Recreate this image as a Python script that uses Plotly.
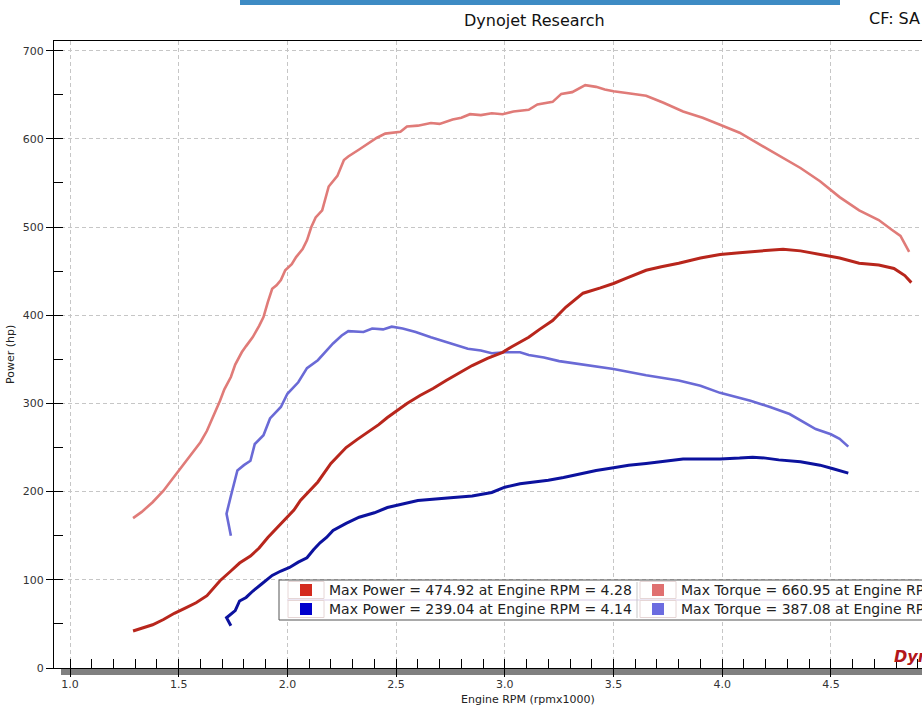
import plotly.graph_objects as go

# ---------------- data ----------------
run1_torque_rpm = [1.29, 1.33, 1.38, 1.43, 1.47, 1.51, 1.54, 1.57, 1.60, 1.63, 1.66, 1.69, 1.71, 1.74,
                   1.76, 1.79, 1.81, 1.84, 1.87, 1.89, 1.91, 1.93, 1.95, 1.97, 1.99, 2.02, 2.04, 2.07,
                   2.09, 2.11, 2.13, 2.16, 2.19, 2.21, 2.23, 2.26, 2.28, 2.33, 2.37, 2.41, 2.45, 2.49,
                   2.52, 2.55, 2.60, 2.66, 2.70, 2.76, 2.80, 2.84, 2.89, 2.94, 2.99, 3.04, 3.11, 3.15,
                   3.22, 3.26, 3.31, 3.37, 3.42, 3.46, 3.50, 3.56, 3.65, 3.69, 3.73, 3.82, 3.91, 3.99,
                   4.08, 4.17, 4.26, 4.36, 4.45, 4.54, 4.63, 4.72, 4.78, 4.82, 4.84, 4.86]
run1_torque_hp = [170, 177, 188, 201, 214, 227, 236, 246, 256, 269, 285, 303, 316, 330,
                  344, 358, 365, 375, 388, 398, 415, 430, 434, 440, 451, 458, 466, 475,
                  485, 500, 511, 519, 546, 552, 558, 576, 580, 588, 595, 601, 606, 607,
                  608, 614, 615, 618, 617, 622, 624, 628, 627, 629, 628, 631, 633, 639,
                  642, 651, 653, 660.95, 659, 656, 654, 652, 649, 645, 641, 631, 624, 616,
                  607, 594, 581, 567, 552, 534, 519, 508, 497, 490, 481, 472]

run1_power_rpm = [1.29, 1.33, 1.38, 1.43, 1.48, 1.53, 1.58, 1.63, 1.66, 1.69, 1.74, 1.78, 1.83, 1.87,
                  1.91, 1.95, 2.00, 2.03, 2.06, 2.10, 2.14, 2.20, 2.27, 2.32, 2.37, 2.42, 2.46,
                  2.55, 2.61, 2.67, 2.73, 2.79, 2.85, 2.92, 2.99, 3.03, 3.07, 3.11, 3.16, 3.22,
                  3.28, 3.36, 3.44, 3.50, 3.56, 3.65, 3.72, 3.80, 3.90, 3.99, 4.08, 4.17, 4.28,
                  4.36, 4.45, 4.54, 4.63, 4.72, 4.79, 4.84, 4.87]
run1_power_hp = [42, 45, 49, 55, 62, 68, 74, 82, 90, 99, 110, 119, 127, 136,
                 148, 158, 171, 179, 190, 200, 211, 232, 250, 259, 267, 276, 284,
                 300, 309, 317, 326, 335, 343, 351, 358, 364, 370, 375, 384, 394,
                 409, 425, 431, 436, 442, 451, 455, 459, 465, 469, 471, 473, 474.92,
                 473, 469, 465, 459, 457, 453, 445, 437]

run2_torque_rpm = [1.74, 1.72, 1.74, 1.77, 1.80, 1.83, 1.85, 1.89, 1.92, 1.97, 2.00, 2.05, 2.09,
                   2.14, 2.18, 2.21, 2.25, 2.28, 2.35, 2.39, 2.44, 2.48, 2.53, 2.59, 2.66, 2.73,
                   2.83, 2.89, 2.94, 3.00, 3.07, 3.11, 3.18, 3.25, 3.38, 3.50, 3.65, 3.80, 3.90,
                   3.99, 4.13, 4.22, 4.31, 4.43, 4.50, 4.54, 4.58]
run2_torque_hp = [150, 175, 195, 224, 230, 235, 254, 264, 283, 296, 311, 324, 340,
                  349, 360, 368, 377, 382, 381, 385, 384, 387.08, 385, 381, 375, 370,
                  362, 360, 357, 358, 358, 355, 352, 348, 343, 339, 332, 326, 320,
                  312, 303, 296, 288, 271, 265, 260, 251]

run2_power_rpm = [1.74, 1.72, 1.76, 1.78, 1.81, 1.84, 1.88, 1.93, 1.97, 2.01, 2.05, 2.09, 2.12,
                  2.15, 2.18, 2.21, 2.27, 2.33, 2.40, 2.46, 2.53, 2.60, 2.75, 2.85, 2.94, 3.00,
                  3.07, 3.11, 3.20, 3.27, 3.35, 3.42, 3.50, 3.57, 3.65, 3.73, 3.82, 3.90, 3.99,
                  4.08, 4.14, 4.20, 4.26, 4.36, 4.45, 4.51, 4.58]
run2_power_hp = [48, 57, 65, 76, 80, 87, 95, 105, 110, 114, 120, 125, 134,
                 142, 148, 156, 164, 171, 176, 182, 186, 190, 193, 195, 199, 205,
                 209, 210, 213, 216, 220, 224, 227, 230, 232, 234, 237, 237, 237,
                 238, 239.04, 238, 236, 234, 230, 226, 221]

x_ticks = [1.0, 1.5, 2.0, 2.5, 3.0, 3.5, 4.0, 4.5]
x_tick_labels = ["1.0", "1.5", "2.0", "2.5", "3.0", "3.5", "4.0", "4.5"]
y_ticks = [0, 100, 200, 300, 400, 500, 600, 700]

legend_rows = [
    ("Max Power = 474.92 at Engine RPM = 4.28", "Max Torque = 660.95 at Engine RPM = 3.37"),
    ("Max Power = 239.04 at Engine RPM = 4.14", "Max Torque = 387.08 at Engine RPM = 2.48"),
]

# ---------------- styles ----------------
C_P1 = "#b8261c"
C_T1 = "#e07b78"
C_P2 = "#0c129e"
C_T2 = "#6a6ad6"
SQ = [("#d42a1e", "#e07070"), ("#0000cc", "#6c6ce0")]
FONT = "DejaVu Sans"

W, H = 922, 709
ML, MR, MT, MB = 54, 0, 41, 41
PW, PH = W - ML - MR, H - MT - MB


def px(x):
    return (x - ML) / PW


def py(y):
    return (H - MB - y) / PH


fig = go.Figure()
for xs, ys, c, w in [
    (run1_torque_rpm, run1_torque_hp, C_T1, 2.6),
    (run2_torque_rpm, run2_torque_hp, C_T2, 2.6),
    (run1_power_rpm, run1_power_hp, C_P1, 3.0),
    (run2_power_rpm, run2_power_hp, C_P2, 3.0),
]:
    fig.add_trace(go.Scatter(x=xs, y=ys, mode="lines", line=dict(color=c, width=w),
                             showlegend=False, hoverinfo="skip"))

shapes = []
annotations = []

# top blue bar
shapes.append(dict(type="rect", xref="paper", yref="paper", x0=px(240), x1=px(840),
                   y0=py(5), y1=py(-2), fillcolor="#3d8bc4", line=dict(width=0), layer="above"))
# grey bar under x axis
shapes.append(dict(type="rect", xref="paper", yref="paper", x0=px(61), x1=px(930),
                   y0=py(675), y1=py(668.5), fillcolor="#808080", line=dict(width=0), layer="below"))

# legend box
shapes.append(dict(type="rect", xref="paper", yref="paper", x0=px(279), x1=px(960),
                   y0=py(620), y1=py(580), fillcolor="white", line=dict(color="#555555", width=1),
                   layer="above"))
shapes.append(dict(type="line", xref="paper", yref="paper", x0=px(287), x1=px(960),
                   y0=py(600), y1=py(600), line=dict(color="#d9cce6", width=1), layer="above"))
shapes.append(dict(type="line", xref="paper", yref="paper", x0=px(637), x1=px(637),
                   y0=py(582), y1=py(618), line=dict(color="#c8c8c8", width=1), layer="above"))
row_y = [590, 609]
for r, (left_txt, right_txt) in enumerate(legend_rows):
    yc = row_y[r]
    for cx0, cx1, sq_c, txt, tx in [(288, 324, SQ[r][0], left_txt, 327),
                                    (640, 676, SQ[r][1], right_txt, 679)]:
        shapes.append(dict(type="rect", xref="paper", yref="paper", x0=px(cx0), x1=px(cx1),
                           y0=py(yc + 8.5), y1=py(yc - 8.5), fillcolor="rgba(0,0,0,0)",
                           line=dict(color="#e6d6d6", width=1), layer="above"))
        m = (cx0 + cx1) / 2
        shapes.append(dict(type="rect", xref="paper", yref="paper", x0=px(m - 6), x1=px(m + 6),
                           y0=py(yc + 6), y1=py(yc - 6), fillcolor=sq_c,
                           line=dict(width=0), layer="above"))
        annotations.append(dict(xref="paper", yref="paper", x=px(tx), y=py(yc), text=txt,
                                showarrow=False, xanchor="left", yanchor="middle",
                                font=dict(family=FONT, size=14, color="#222222")))

# titles
annotations.append(dict(xref="paper", yref="paper", x=px(534), y=py(21), text="Dynojet Research",
                        showarrow=False, xanchor="center", yanchor="middle",
                        font=dict(family=FONT, size=16, color="#111111")))
annotations.append(dict(xref="paper", yref="paper", x=px(867), y=py(19), text="CF: SA",
                        showarrow=False, xanchor="left", yanchor="middle",
                        font=dict(family=FONT, size=16, color="#111111")))
annotations.append(dict(xref="paper", yref="paper", x=px(528), y=py(699),
                        text="Engine RPM (rpmx1000)", showarrow=False, xanchor="center",
                        yanchor="middle", font=dict(family=FONT, size=11, color="#222222")))
annotations.append(dict(xref="paper", yref="paper", x=px(10), y=py(355), text="Power (hp)",
                        showarrow=False, xanchor="center", yanchor="middle", textangle=-90,
                        font=dict(family=FONT, size=11, color="#222222")))
# logo fragment
annotations.append(dict(xref="paper", yref="paper", x=px(892), y=py(656), text="<b><i>Dyno</i></b>",
                        showarrow=False, xanchor="left", yanchor="middle",
                        font=dict(family=FONT, size=16, color="#b3161a")))

grid_dash = "4px,3px"
fig.update_layout(
    width=W, height=H,
    margin=dict(l=ML, r=MR, t=MT, b=MB, pad=0),
    paper_bgcolor="white", plot_bgcolor="white",
    showlegend=False,
    shapes=shapes, annotations=annotations,
    xaxis=dict(range=[1.0 - 16 / 217.4, 1.0 + 852 / 217.4], tickvals=x_ticks, ticktext=x_tick_labels,
               ticks="outside", ticklen=8, tickcolor="black", tickwidth=1,
               ticklabelstandoff=-2,
               showline=True, linecolor="black", linewidth=1, mirror=True,
               showgrid=True, gridcolor="#c6c6c6", gridwidth=1, griddash=grid_dash,
               zeroline=False,
               minor=dict(tick0=1.0, dtick=0.1, ticks="inside", ticklen=9, tickcolor="black",
                          tickwidth=1, showgrid=False),
               tickfont=dict(family=FONT, size=11, color="#333333")),
    yaxis=dict(range=[0, 711], tickvals=y_ticks,
               ticks="outside", ticklen=7, tickcolor="black", tickwidth=1,
               showline=True, linecolor="black", linewidth=1,
               showgrid=True, gridcolor="#c6c6c6", gridwidth=1, griddash=grid_dash,
               zeroline=False,
               minor=dict(tick0=0, dtick=50, ticks="inside", ticklen=9, tickcolor="black",
                          tickwidth=1, showgrid=False),
               tickfont=dict(family=FONT, size=11, color="#333333")),
)

fig.write_html("out.html")
